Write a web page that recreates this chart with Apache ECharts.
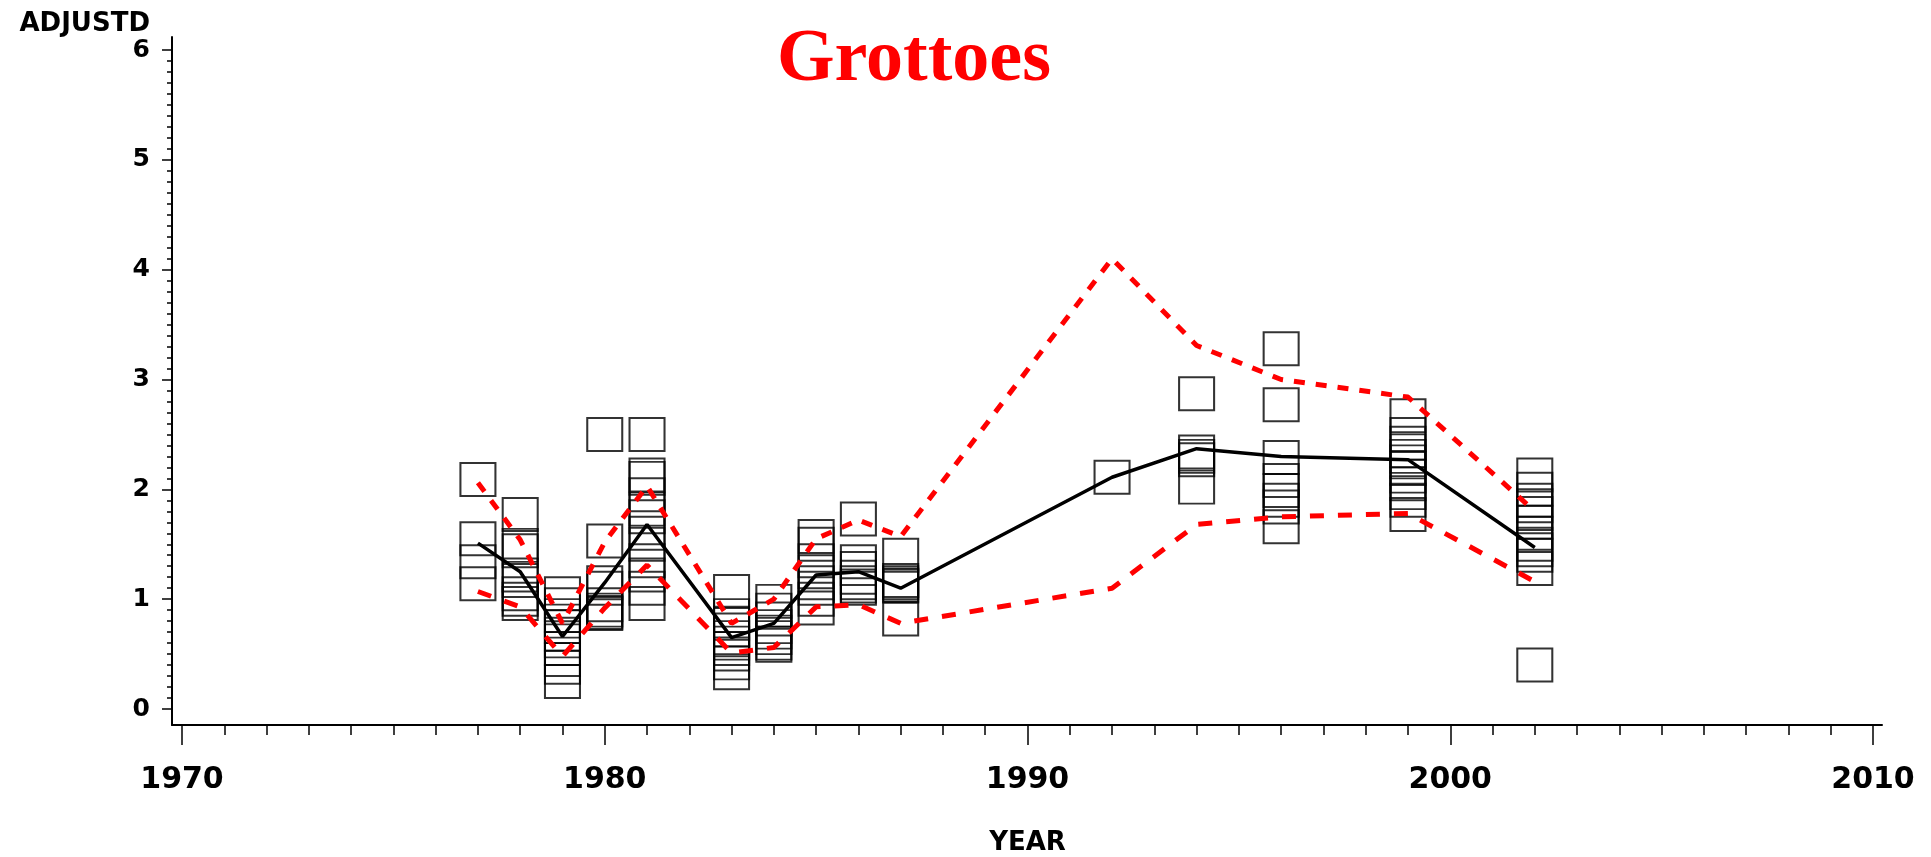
<!DOCTYPE html>
<html lang="en">
<head>
    <meta charset="UTF-8">
    <title>Grottoes</title>
    <script src="https://cdn.jsdelivr.net/npm/echarts@6/dist/echarts.min.js"></script>
    <style>
        * {padding: 0; margin: 0;}
        body {background: #fff;}
        #main {width: 1931px; height: 857px;}
    </style>
</head>
<body>
    <div id="main"></div>

    <script>
        // sampling years (one column of boxes per year)
        const years = [1977, 1978, 1979, 1980, 1981, 1983, 1984, 1985, 1986, 1987, 1992, 1994, 1996, 1999, 2002];

        // individual ADJUSTD observations, one list per year above
        const observations = [
            [2.09, 1.55, 1.34, 1.14],
            [1.77, 1.49, 1.44, 1.22, 1.17, 1.05, 1.00, 0.96],
            [1.05, 0.95, 0.85, 0.80, 0.75, 0.68, 0.62, 0.55, 0.45, 0.38, 0.25],
            [2.50, 1.53, 1.15, 1.10, 0.95, 0.90, 0.88, 0.87],
            [2.50, 2.13, 2.10, 1.95, 1.82, 1.75, 1.60, 1.50, 1.35, 1.22, 1.10, 0.96],
            [1.07, 0.85, 0.78, 0.72, 0.65, 0.60, 0.55, 0.50, 0.42, 0.33],
            [0.98, 0.90, 0.82, 0.75, 0.70, 0.65, 0.60, 0.58],
            [1.57, 1.50, 1.35, 1.25, 1.15, 1.10, 1.00, 0.92],
            [1.73, 1.34, 1.28, 1.20, 1.15, 1.12, 1.10],
            [1.40, 1.17, 1.15, 1.13, 1.12, 0.82],
            [2.11],
            [2.87, 2.34, 2.30, 2.27, 2.02],
            [3.28, 2.77, 2.29, 2.08, 1.99, 1.90, 1.84, 1.66],
            [2.67, 2.50, 2.42, 2.35, 2.30, 2.25, 2.19, 2.12, 2.05, 1.97, 1.90, 1.77],
            [2.13, 2.00, 1.90, 1.85, 1.78, 1.70, 1.60, 1.50, 1.45, 1.40, 1.28, 0.40]
        ];

        // yearly summary lines
        const meanLine  = [1.51, 1.25, 0.66, 1.15, 1.68, 0.65, 0.78, 1.22, 1.25, 1.10, 2.11, 2.37, 2.30, 2.27, 1.47];
        const upperLine = [2.06, 1.54, 0.78, 1.52, 2.03, 0.78, 1.00, 1.55, 1.72, 1.57, 4.10, 3.31, 3.00, 2.84, 1.80];
        const lowerLine = [1.07, 0.93, 0.48, 0.92, 1.31, 0.51, 0.56, 0.93, 0.95, 0.78, 1.10, 1.68, 1.75, 1.78, 1.16];

        const xMin = 1970, xMax = 2010, xStep = 10;
        const yMin = 0, yMax = 6, yStep = 1;

        const points = [];
        years.forEach(function(yr, i) {
            observations[i].forEach(function(v) { points.push([yr, v]); });
        });
        const pair = function(vals) { return years.map(function(yr, i) { return [yr, vals[i]]; }); };

        const labelFont = {color: '#000', fontFamily: 'DejaVu Sans', fontWeight: 'bold'};
        const tickLine = {color: '#000', width: 1.5};
        // an axis that only carries scale, nothing drawn
        const bare = function(grid, min, max) {
            return {gridIndex: grid, type: 'value', min: min, max: max, show: false};
        };

        const chart = echarts.init(document.getElementById('main'));
        chart.setOption({
            animation: false,
            backgroundColor: '#fff',
            graphic: [{
                type: 'text',
                x: 914, y: 61,
                style: {
                    text: 'Grottoes',
                    font: 'bold 74px "Liberation Serif"',
                    fill: '#ff0000',
                    align: 'center',
                    verticalAlign: 'middle'
                }
            }],
            grid: [
                // 0: data area
                {left: 182, right: 58, top: 50, bottom: 148, outerBoundsMode: 'none'},
                // 1: the two axis lines, a bit longer than the data area
                {left: 172, right: 49, top: 37, bottom: 132, outerBoundsMode: 'none'},
                // 2: year ticks hanging under the x axis line
                {left: 182, right: 58, top: 37, bottom: 132, outerBoundsMode: 'none'},
                // 3: value ticks left of the y axis line
                {left: 173, right: 58, top: 50, bottom: 148, outerBoundsMode: 'none'}
            ],
            xAxis: [
                bare(0, xMin, xMax),
                {
                    gridIndex: 1, type: 'value', min: 0, max: 1,
                    axisLine: {lineStyle: {color: '#000', width: 2}},
                    axisTick: {show: false}, axisLabel: {show: false}, splitLine: {show: false}
                },
                {
                    gridIndex: 2,
                    type: 'value',
                    min: xMin, max: xMax, interval: xStep,
                    axisLine: {show: false},
                    axisTick: {length: 20, lineStyle: tickLine},
                    minorTick: {show: true, splitNumber: 10, length: 10, lineStyle: tickLine},
                    splitLine: {show: false},
                    axisLabel: Object.assign({fontSize: 30, margin: 40, formatter: function(v) { return String(v); }}, labelFont),
                    name: 'YEAR',
                    nameLocation: 'middle',
                    nameGap: 105,
                    nameTextStyle: Object.assign({fontSize: 26}, labelFont)
                },
                bare(3, 0, 1)
            ],
            yAxis: [
                bare(0, yMin, yMax),
                {
                    gridIndex: 1, type: 'value', min: 0, max: 1,
                    axisLine: {lineStyle: {color: '#000', width: 2}},
                    axisTick: {show: false}, axisLabel: {show: false}, splitLine: {show: false}
                },
                bare(2, 0, 1),
                {
                    gridIndex: 3,
                    type: 'value',
                    min: yMin, max: yMax, interval: yStep,
                    axisLine: {show: false},
                    axisTick: {length: 11, lineStyle: tickLine},
                    minorTick: {show: true, splitNumber: 10, length: 6, lineStyle: tickLine},
                    splitLine: {show: false},
                    axisLabel: Object.assign({fontSize: 25, margin: 23}, labelFont),
                    name: 'ADJUSTD',
                    nameLocation: 'end',
                    nameGap: 26,
                    nameTextStyle: Object.assign({fontSize: 26, align: 'right', verticalAlign: 'middle', padding: [0, 23, 0, 0]}, labelFont)
                }
            ],
            series: [{
                type: 'scatter',
                data: points,
                symbol: 'rect',
                symbolSize: [35, 33],
                itemStyle: {color: 'rgba(0,0,0,0)', borderColor: '#000', borderWidth: 2},
                z: 1
            }, {
                type: 'line',
                data: pair(upperLine),
                showSymbol: false,
                lineStyle: {color: '#ff0000', width: 5, type: [11, 11]},
                z: 2
            }, {
                type: 'line',
                data: pair(lowerLine),
                showSymbol: false,
                lineStyle: {color: '#ff0000', width: 5, type: [14, 14]},
                z: 2
            }, {
                type: 'line',
                data: pair(meanLine),
                showSymbol: false,
                lineStyle: {color: '#000', width: 3.5},
                z: 3
            }]
        });
    </script>
</body>
</html>
